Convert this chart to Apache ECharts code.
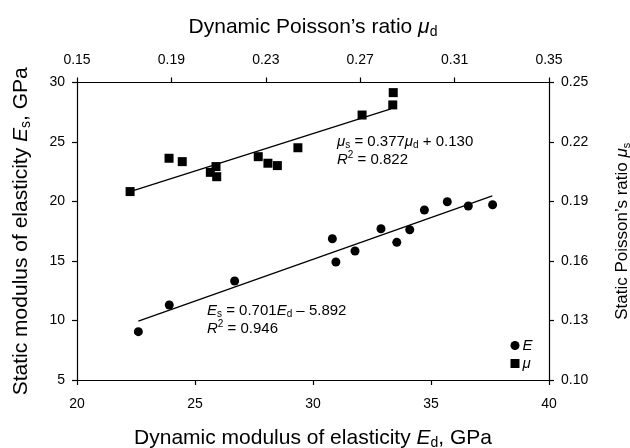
<!DOCTYPE html>
<html>
<head>
<meta charset="utf-8">
<script src="https://cdn.jsdelivr.net/npm/echarts@6/dist/echarts.min.js"></script>
<style>html,body{margin:0;padding:0;background:#fff}#c{width:630px;height:448px}</style>
</head>
<body>
<div id="c"></div>
<script>
// Elastic modulus: dynamic Ed (GPa) vs static Es (GPa)
const eDynamic = [22.60, 23.91, 26.68, 30.82, 30.97, 31.78, 32.88, 33.55, 34.10, 34.72, 35.69, 36.58, 37.61];
const eStatic  = [9.06, 11.30, 13.32, 16.87, 14.92, 15.84, 17.71, 16.57, 17.63, 19.29, 19.98, 19.62, 19.73];
// Poisson's ratio: dynamic μd vs static μs
const muDynamic = [0.1725, 0.1890, 0.1946, 0.2065, 0.2089, 0.2092, 0.2268, 0.2309, 0.2349, 0.2436, 0.2708, 0.2838, 0.2840];
const muStatic  = [0.1950, 0.2118, 0.2101, 0.2047, 0.2076, 0.2025, 0.2126, 0.2093, 0.2081, 0.2171, 0.2336, 0.2387, 0.2449];
// Fit line end points
const eFitX = [22.6, 37.6];
const eFitY = [9.95, 20.47];
const muFitX = [0.1725, 0.2830];
const muFitY = [0.1950, 0.2367];
// Axis ranges / ticks
const edTicks = [20, 40, 5];
const esTicks = [5, 30, 5];
const mudTicks = [0.15, 0.35, 0.04];
const musTicks = [0.10, 0.25, 0.03];

const FONT = '"Liberation Sans", Arial, sans-serif';
const pair = (xs, ys) => xs.map((x, i) => [x, ys[i]]);

function titleRich(fs, sfs) {
  return {
    n: {fontSize: fs, fontFamily: FONT, color: '#000', lineHeight: fs + 3},
    i: {fontSize: fs, fontFamily: FONT, color: '#000', fontStyle: 'italic', lineHeight: fs + 3},
    sub: {fontSize: sfs, fontFamily: FONT, color: '#000', lineHeight: sfs, verticalAlign: 'bottom'}
  };
}
const annRich = {
  n: {fontSize: 15, fontFamily: FONT, color: '#000', lineHeight: 18},
  i: {fontSize: 15, fontFamily: FONT, color: '#000', fontStyle: 'italic', lineHeight: 18},
  sub: {fontSize: 10, fontFamily: FONT, color: '#000', lineHeight: 10, verticalAlign: 'bottom'},
  sup: {fontSize: 10, fontFamily: FONT, color: '#000', lineHeight: 10, verticalAlign: 'top'}
};

function axisCommon(min, max, interval, dec, margin) {
  return {
    type: 'value', min: min, max: max, interval: interval,
    axisLine: {show: true, onZero: false, lineStyle: {color: '#000', width: 1.2}},
    axisTick: {show: true, inside: false, length: 5, lineStyle: {color: '#000', width: 1.2}},
    splitLine: {show: false},
    axisLabel: {
      color: '#000', fontSize: 14, fontFamily: FONT, margin: margin,
      formatter: v => dec ? v.toFixed(dec) : String(Math.round(v))
    },
    nameLocation: 'middle',
    nameTextStyle: {rich: titleRich(21, 14)}
  };
}

const chart = echarts.init(document.getElementById('c'), null, {renderer: 'canvas'});
const option = {
  animation: false,
  backgroundColor: '#fff',
  grid: {left: 77, right: 81, top: 82.5, bottom: 68, containLabel: false, outerBoundsMode: 'none'},
  xAxis: [
    Object.assign(axisCommon(edTicks[0], edTicks[1], edTicks[2], 0, 17), {
      position: 'bottom',
      name: '{n|Dynamic modulus of elasticity }{i|E}{sub|d}{n|, GPa}',
      nameGap: 46
    }),
    Object.assign(axisCommon(mudTicks[0], mudTicks[1], mudTicks[2], 2, 15), {
      position: 'top',
      name: '{n|Dynamic Poisson\u2019s ratio }{i|\u03bc}{sub|d}',
      nameGap: 43
    })
  ],
  yAxis: [
    Object.assign(axisCommon(esTicks[0], esTicks[1], esTicks[2], 0, 12), {
      position: 'left',
      name: '{n|Static modulus of elasticity }{i|E}{sub|s}{n|, GPa}',
      nameGap: 44
    }),
    Object.assign(axisCommon(musTicks[0], musTicks[1], musTicks[2], 2, 12), {
      position: 'right',
      name: '{n|Static Poisson\u2019s ratio }{i|\u03bc}{sub|s}',
      nameGap: 63,
      nameTextStyle: {rich: titleRich(17, 11)}
    })
  ],
  legend: {
    orient: 'vertical', left: 510.5, top: 338, padding: 0,
    itemWidth: 9, itemHeight: 9, itemGap: 3,
    textStyle: {fontSize: 15, fontFamily: FONT, fontStyle: 'italic', color: '#000', padding: [0,0,0,-2]},
    data: [{name: 'E', icon: 'circle'}, {name: '\u03bc', icon: 'rect'}]
  },
  series: [
    {
      name: 'E', type: 'scatter', xAxisIndex: 0, yAxisIndex: 0,
      symbol: 'circle', symbolSize: 9, itemStyle: {color: '#000', opacity: 1},
      data: pair(eDynamic, eStatic), z: 3
    },
    {
      name: 'E fit', type: 'line', xAxisIndex: 0, yAxisIndex: 0,
      showSymbol: false, symbol: 'none', lineStyle: {color: '#000', width: 1.3},
      data: pair(eFitX, eFitY), z: 2
    },
    {
      name: '\u03bc', type: 'scatter', xAxisIndex: 1, yAxisIndex: 1,
      symbol: 'rect', symbolSize: 9, itemStyle: {color: '#000', opacity: 1},
      data: pair(muDynamic, muStatic), z: 3
    },
    {
      name: '\u03bc fit', type: 'line', xAxisIndex: 1, yAxisIndex: 1,
      showSymbol: false, symbol: 'none', lineStyle: {color: '#000', width: 1.3},
      data: pair(muFitX, muFitY), z: 2
    }
  ],
  graphic: [
    {
      type: 'text', left: 337, top: 134,
      style: {
        text: '{i|\u03bc}{sub|s}{n| = 0.377}{i|\u03bc}{sub|d}{n| + 0.130}\n{i|R}{sup|2}{n| = 0.822}',
        rich: annRich
      }
    },
    {
      type: 'text', left: 207, top: 303,
      style: {
        text: '{i|E}{sub|s}{n| = 0.701}{i|E}{sub|d}{n| \u2013 5.892}\n{i|R}{sup|2}{n| = 0.946}',
        rich: annRich
      }
    }
  ]
};
chart.setOption(option);
</script>
</body>
</html>
